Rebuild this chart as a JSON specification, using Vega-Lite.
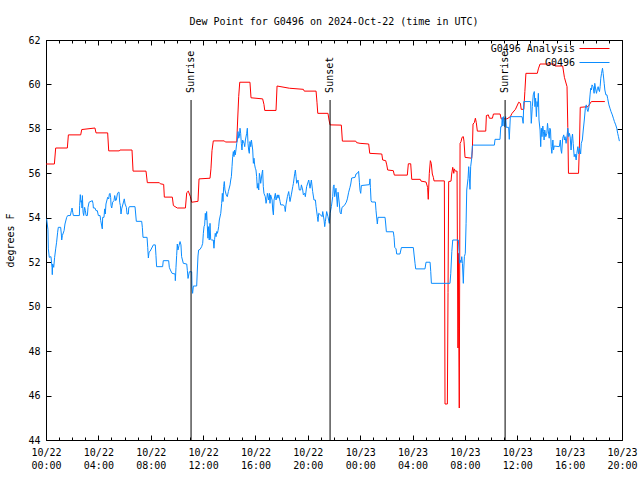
{
  "$schema": "https://vega.github.io/schema/vega-lite/v6.json",
  "width": 576,
  "height": 400,
  "autosize": {"type": "none"},
  "padding": {"left": 46, "top": 40, "right": 18, "bottom": 40},
  "background": "white",
  "title": {"text": "Dew Point for G0496 on 2024-Oct-22 (time in UTC)", "font": "DejaVu Sans Mono", "fontSize": 10, "fontWeight": "normal", "color": "black", "anchor": "middle", "offset": 8},
  "config": {
    "font": "DejaVu Sans Mono",
    "view": {"stroke": "black", "strokeWidth": 1},
    "axis": {"domain": false, "grid": false, "tickColor": "black", "labelColor": "black", "labelFont": "DejaVu Sans Mono", "labelFontSize": 10, "titleFont": "DejaVu Sans Mono", "titleFontSize": 10, "titleFontWeight": "normal", "titleColor": "black", "labelOverlap": false, "labelFlush": false}
  },
  "datasets": {
    "analysis": [
      {"hour":0,"dewpoint":56.42},{"hour":0.64,"dewpoint":56.42},{"hour":0.74,"dewpoint":57.14},{"hour":1.63,"dewpoint":57.14},{"hour":1.71,"dewpoint":57.73},{"hour":2.65,"dewpoint":57.73},{"hour":2.73,"dewpoint":57.97},{"hour":3.74,"dewpoint":58.04},{"hour":3.82,"dewpoint":57.82},{"hour":4.71,"dewpoint":57.82},{"hour":4.79,"dewpoint":57.01},{"hour":5.6,"dewpoint":57.01},{"hour":5.65,"dewpoint":57.05},{"hour":6.57,"dewpoint":57.05},{"hour":6.65,"dewpoint":56.1},{"hour":7.64,"dewpoint":56.1},{"hour":7.74,"dewpoint":55.58},{"hour":8.66,"dewpoint":55.58},{"hour":8.73,"dewpoint":55.53},{"hour":8.99,"dewpoint":55.5},{"hour":9.04,"dewpoint":54.93},{"hour":9.65,"dewpoint":54.93},{"hour":9.73,"dewpoint":54.55},{"hour":10.03,"dewpoint":54.44},{"hour":10.65,"dewpoint":54.44},{"hour":10.75,"dewpoint":55.13},{"hour":10.87,"dewpoint":55.2},{"hour":11.03,"dewpoint":54.95},{"hour":11.13,"dewpoint":54.7},{"hour":11.61,"dewpoint":54.74},{"hour":11.69,"dewpoint":55.75},{"hour":12.53,"dewpoint":55.78},{"hour":12.6,"dewpoint":56.2},{"hour":12.68,"dewpoint":57.02},{"hour":12.78,"dewpoint":57.46},{"hour":13.62,"dewpoint":57.46},{"hour":13.7,"dewpoint":57.41},{"hour":14.57,"dewpoint":57.41},{"hour":14.64,"dewpoint":58.4},{"hour":14.72,"dewpoint":59.45},{"hour":14.8,"dewpoint":60.1},{"hour":15.58,"dewpoint":60.1},{"hour":15.66,"dewpoint":59.4},{"hour":16.55,"dewpoint":59.35},{"hour":16.65,"dewpoint":59.1},{"hour":16.71,"dewpoint":58.83},{"hour":17.57,"dewpoint":58.83},{"hour":17.65,"dewpoint":59.93},{"hour":18.59,"dewpoint":59.83},{"hour":19.66,"dewpoint":59.78},{"hour":19.73,"dewpoint":59.7},{"hour":20.63,"dewpoint":59.7},{"hour":20.7,"dewpoint":59.2},{"hour":20.76,"dewpoint":58.7},{"hour":21.54,"dewpoint":58.7},{"hour":21.62,"dewpoint":58.4},{"hour":21.7,"dewpoint":58.18},{"hour":22.56,"dewpoint":58.17},{"hour":22.64,"dewpoint":57.45},{"hour":23.66,"dewpoint":57.45},{"hour":23.73,"dewpoint":57.38},{"hour":23.99,"dewpoint":57.35},{"hour":24.65,"dewpoint":57.32},{"hour":24.73,"dewpoint":56.9},{"hour":25.65,"dewpoint":56.87},{"hour":25.72,"dewpoint":56.6},{"hour":25.95,"dewpoint":56.57},{"hour":26.03,"dewpoint":56.38},{"hour":26.1,"dewpoint":56.15},{"hour":26.53,"dewpoint":56.12},{"hour":26.61,"dewpoint":55.92},{"hour":27.6,"dewpoint":55.92},{"hour":27.68,"dewpoint":56.43},{"hour":27.86,"dewpoint":56.43},{"hour":27.94,"dewpoint":55.73},{"hour":28.59,"dewpoint":55.73},{"hour":28.65,"dewpoint":55.65},{"hour":29.03,"dewpoint":55.61},{"hour":29.15,"dewpoint":55.37},{"hour":29.2,"dewpoint":54.83},{"hour":29.28,"dewpoint":56.0},{"hour":29.36,"dewpoint":56.57},{"hour":29.43,"dewpoint":56.45},{"hour":29.51,"dewpoint":55.97},{"hour":29.59,"dewpoint":55.82},{"hour":29.64,"dewpoint":55.66},{"hour":30.43,"dewpoint":55.66},{"hour":30.48,"dewpoint":45.62},{"hour":30.66,"dewpoint":45.62},{"hour":30.71,"dewpoint":50.63},{"hour":30.76,"dewpoint":55.63},{"hour":30.94,"dewpoint":55.65},{"hour":30.99,"dewpoint":55.97},{"hour":31.07,"dewpoint":56.27},{"hour":31.15,"dewpoint":56.0},{"hour":31.19,"dewpoint":56.2},{"hour":31.27,"dewpoint":56.1},{"hour":31.4,"dewpoint":56.1},{"hour":31.42,"dewpoint":53.45},{"hour":31.47,"dewpoint":48.14},{"hour":31.5,"dewpoint":52.4},{"hour":31.53,"dewpoint":49.0},{"hour":31.57,"dewpoint":45.44},{"hour":31.63,"dewpoint":57.35},{"hour":31.7,"dewpoint":57.42},{"hour":31.78,"dewpoint":57.62},{"hour":31.88,"dewpoint":57.65},{"hour":31.93,"dewpoint":57.45},{"hour":32.01,"dewpoint":56.72},{"hour":32.52,"dewpoint":56.68},{"hour":32.57,"dewpoint":57.05},{"hour":32.62,"dewpoint":58.22},{"hour":32.72,"dewpoint":58.28},{"hour":32.8,"dewpoint":58.48},{"hour":32.87,"dewpoint":58.28},{"hour":32.95,"dewpoint":57.9},{"hour":33.59,"dewpoint":57.9},{"hour":33.64,"dewpoint":58.6},{"hour":33.79,"dewpoint":58.63},{"hour":33.87,"dewpoint":58.48},{"hour":34.1,"dewpoint":58.48},{"hour":34.18,"dewpoint":58.67},{"hour":34.69,"dewpoint":58.67},{"hour":34.77,"dewpoint":58.45},{"hour":35.21,"dewpoint":58.45},{"hour":35.47,"dewpoint":58.55},{"hour":35.6,"dewpoint":58.7},{"hour":35.86,"dewpoint":58.88},{"hour":36.11,"dewpoint":59.2},{"hour":36.24,"dewpoint":59.15},{"hour":36.3,"dewpoint":58.88},{"hour":36.5,"dewpoint":58.88},{"hour":36.58,"dewpoint":59.68},{"hour":36.66,"dewpoint":60.5},{"hour":37.53,"dewpoint":60.5},{"hour":37.61,"dewpoint":60.7},{"hour":37.74,"dewpoint":60.92},{"hour":38.82,"dewpoint":60.92},{"hour":38.88,"dewpoint":60.83},{"hour":39.47,"dewpoint":60.83},{"hour":39.6,"dewpoint":60.32},{"hour":39.8,"dewpoint":59.9},{"hour":39.86,"dewpoint":58.07},{"hour":39.91,"dewpoint":56.0},{"hour":40.68,"dewpoint":56.0},{"hour":40.76,"dewpoint":57.5},{"hour":40.81,"dewpoint":58.97},{"hour":41.4,"dewpoint":59.0},{"hour":41.66,"dewpoint":59.23},{"hour":42.69,"dewpoint":59.23}
    ],
    "station": [
      {"hour":0.05,"dewpoint":53.95},{"hour":0.15,"dewpoint":53.46},{"hour":0.18,"dewpoint":52.6},{"hour":0.25,"dewpoint":52.22},{"hour":0.38,"dewpoint":52.25},{"hour":0.46,"dewpoint":51.77},{"hour":0.48,"dewpoint":51.44},{"hour":0.51,"dewpoint":51.92},{"hour":0.59,"dewpoint":51.77},{"hour":0.66,"dewpoint":52.22},{"hour":0.74,"dewpoint":52.6},{"hour":0.81,"dewpoint":52.9},{"hour":0.89,"dewpoint":53.35},{"hour":0.94,"dewpoint":53.57},{"hour":1.12,"dewpoint":53.57},{"hour":1.17,"dewpoint":53.27},{"hour":1.2,"dewpoint":53.0},{"hour":1.25,"dewpoint":53.2},{"hour":1.38,"dewpoint":53.42},{"hour":1.45,"dewpoint":53.72},{"hour":1.58,"dewpoint":54.02},{"hour":1.66,"dewpoint":54.1},{"hour":1.86,"dewpoint":54.1},{"hour":1.94,"dewpoint":54.32},{"hour":1.99,"dewpoint":54.44},{"hour":2.04,"dewpoint":54.25},{"hour":2.09,"dewpoint":54.1},{"hour":2.55,"dewpoint":54.1},{"hour":2.57,"dewpoint":54.55},{"hour":2.62,"dewpoint":55.04},{"hour":2.67,"dewpoint":54.7},{"hour":2.72,"dewpoint":54.77},{"hour":2.75,"dewpoint":54.44},{"hour":2.78,"dewpoint":55.0},{"hour":2.83,"dewpoint":54.25},{"hour":2.88,"dewpoint":54.1},{"hour":2.95,"dewpoint":54.47},{"hour":3.01,"dewpoint":54.32},{"hour":3.06,"dewpoint":54.1},{"hour":3.16,"dewpoint":54.1},{"hour":3.21,"dewpoint":54.47},{"hour":3.29,"dewpoint":54.7},{"hour":3.54,"dewpoint":54.77},{"hour":3.59,"dewpoint":54.65},{"hour":3.62,"dewpoint":54.44},{"hour":3.74,"dewpoint":54.44},{"hour":3.82,"dewpoint":54.32},{"hour":3.92,"dewpoint":54.32},{"hour":4.0,"dewpoint":54.1},{"hour":4.13,"dewpoint":54.1},{"hour":4.18,"dewpoint":53.87},{"hour":4.3,"dewpoint":53.5},{"hour":4.33,"dewpoint":54.02},{"hour":4.43,"dewpoint":54.02},{"hour":4.48,"dewpoint":54.4},{"hour":4.53,"dewpoint":54.17},{"hour":4.58,"dewpoint":54.62},{"hour":4.71,"dewpoint":54.92},{"hour":4.79,"dewpoint":54.85},{"hour":4.84,"dewpoint":55.07},{"hour":4.89,"dewpoint":55.1},{"hour":4.94,"dewpoint":54.92},{"hour":4.97,"dewpoint":54.55},{"hour":5.02,"dewpoint":54.44},{"hour":5.09,"dewpoint":54.7},{"hour":5.19,"dewpoint":54.77},{"hour":5.25,"dewpoint":55.0},{"hour":5.32,"dewpoint":54.77},{"hour":5.37,"dewpoint":54.8},{"hour":5.45,"dewpoint":55.07},{"hour":5.53,"dewpoint":55.15},{"hour":5.58,"dewpoint":55.15},{"hour":5.63,"dewpoint":54.7},{"hour":5.68,"dewpoint":54.55},{"hour":5.73,"dewpoint":54.17},{"hour":5.78,"dewpoint":54.4},{"hour":5.88,"dewpoint":54.62},{"hour":5.98,"dewpoint":54.85},{"hour":6.04,"dewpoint":54.62},{"hour":6.14,"dewpoint":54.47},{"hour":6.19,"dewpoint":54.17},{"hour":6.29,"dewpoint":54.17},{"hour":6.32,"dewpoint":54.44},{"hour":6.37,"dewpoint":54.5},{"hour":6.8,"dewpoint":54.5},{"hour":6.85,"dewpoint":54.17},{"hour":6.9,"dewpoint":53.84},{"hour":7.31,"dewpoint":53.84},{"hour":7.36,"dewpoint":53.57},{"hour":7.41,"dewpoint":53.12},{"hour":7.72,"dewpoint":53.12},{"hour":7.77,"dewpoint":52.67},{"hour":7.82,"dewpoint":52.19},{"hour":7.87,"dewpoint":52.45},{"hour":7.95,"dewpoint":52.49},{"hour":8.2,"dewpoint":52.78},{"hour":8.35,"dewpoint":52.78},{"hour":8.4,"dewpoint":52.3},{"hour":8.45,"dewpoint":51.8},{"hour":8.91,"dewpoint":51.8},{"hour":8.96,"dewpoint":52.07},{"hour":9.37,"dewpoint":52.07},{"hour":9.42,"dewpoint":51.77},{"hour":9.5,"dewpoint":51.65},{"hour":9.63,"dewpoint":51.5},{"hour":9.86,"dewpoint":51.47},{"hour":9.88,"dewpoint":51.17},{"hour":9.93,"dewpoint":51.77},{"hour":9.98,"dewpoint":52.3},{"hour":10.03,"dewpoint":52.82},{"hour":10.08,"dewpoint":52.55},{"hour":10.16,"dewpoint":52.75},{"hour":10.24,"dewpoint":52.93},{"hour":10.31,"dewpoint":52.78},{"hour":10.36,"dewpoint":52.25},{"hour":10.49,"dewpoint":51.95},{"hour":10.75,"dewpoint":51.92},{"hour":10.8,"dewpoint":51.62},{"hour":10.85,"dewpoint":51.27},{"hour":10.95,"dewpoint":51.57},{"hour":11.13,"dewpoint":51.57},{"hour":11.15,"dewpoint":50.9},{"hour":11.2,"dewpoint":50.6},{"hour":11.26,"dewpoint":50.93},{"hour":11.51,"dewpoint":50.93},{"hour":11.56,"dewpoint":51.65},{"hour":11.61,"dewpoint":52.28},{"hour":11.66,"dewpoint":52.55},{"hour":11.77,"dewpoint":52.58},{"hour":11.89,"dewpoint":52.7},{"hour":11.97,"dewpoint":52.85},{"hour":12.02,"dewpoint":53.3},{"hour":12.07,"dewpoint":53.6},{"hour":12.12,"dewpoint":53.68},{"hour":12.17,"dewpoint":54.2},{"hour":12.22,"dewpoint":53.9},{"hour":12.27,"dewpoint":54.28},{"hour":12.32,"dewpoint":53.68},{"hour":12.37,"dewpoint":53.08},{"hour":12.42,"dewpoint":53.6},{"hour":12.47,"dewpoint":53.0},{"hour":12.53,"dewpoint":53.75},{"hour":12.58,"dewpoint":53.03},{"hour":12.63,"dewpoint":53.0},{"hour":12.78,"dewpoint":53.0},{"hour":12.83,"dewpoint":52.63},{"hour":12.88,"dewpoint":53.03},{"hour":12.93,"dewpoint":53.3},{"hour":12.99,"dewpoint":53.15},{"hour":13.04,"dewpoint":53.38},{"hour":13.09,"dewpoint":53.3},{"hour":13.14,"dewpoint":53.42},{"hour":13.19,"dewpoint":53.6},{"hour":13.24,"dewpoint":53.9},{"hour":13.35,"dewpoint":54.2},{"hour":13.42,"dewpoint":54.65},{"hour":13.47,"dewpoint":55.1},{"hour":13.52,"dewpoint":54.73},{"hour":13.57,"dewpoint":55.4},{"hour":13.62,"dewpoint":55.63},{"hour":13.67,"dewpoint":55.25},{"hour":13.77,"dewpoint":55.03},{"hour":13.85,"dewpoint":54.95},{"hour":13.93,"dewpoint":55.18},{"hour":14.06,"dewpoint":55.48},{"hour":14.11,"dewpoint":55.7},{"hour":14.16,"dewpoint":55.85},{"hour":14.21,"dewpoint":56.3},{"hour":14.26,"dewpoint":56.75},{"hour":14.31,"dewpoint":56.98},{"hour":14.36,"dewpoint":56.75},{"hour":14.41,"dewpoint":57.05},{"hour":14.46,"dewpoint":56.83},{"hour":14.51,"dewpoint":57.05},{"hour":14.57,"dewpoint":57.35},{"hour":14.62,"dewpoint":57.5},{"hour":14.67,"dewpoint":57.88},{"hour":14.72,"dewpoint":57.58},{"hour":14.77,"dewpoint":57.65},{"hour":14.82,"dewpoint":58.03},{"hour":14.87,"dewpoint":57.8},{"hour":14.92,"dewpoint":57.35},{"hour":14.97,"dewpoint":57.05},{"hour":15.02,"dewpoint":57.5},{"hour":15.13,"dewpoint":57.35},{"hour":15.18,"dewpoint":57.2},{"hour":15.23,"dewpoint":57.5},{"hour":15.33,"dewpoint":57.8},{"hour":15.38,"dewpoint":58.03},{"hour":15.43,"dewpoint":57.35},{"hour":15.48,"dewpoint":57.05},{"hour":15.53,"dewpoint":56.9},{"hour":15.58,"dewpoint":57.43},{"hour":15.64,"dewpoint":57.2},{"hour":15.69,"dewpoint":57.5},{"hour":15.74,"dewpoint":57.28},{"hour":15.79,"dewpoint":57.05},{"hour":15.84,"dewpoint":56.45},{"hour":15.89,"dewpoint":56.68},{"hour":15.94,"dewpoint":56.38},{"hour":15.99,"dewpoint":56.23},{"hour":16.04,"dewpoint":56.15},{"hour":16.09,"dewpoint":55.85},{"hour":16.14,"dewpoint":55.33},{"hour":16.2,"dewpoint":55.55},{"hour":16.25,"dewpoint":55.25},{"hour":16.3,"dewpoint":56.0},{"hour":16.35,"dewpoint":55.85},{"hour":16.4,"dewpoint":55.55},{"hour":16.5,"dewpoint":56.0},{"hour":16.55,"dewpoint":56.15},{"hour":16.6,"dewpoint":55.4},{"hour":16.65,"dewpoint":55.1},{"hour":16.75,"dewpoint":54.95},{"hour":16.81,"dewpoint":54.65},{"hour":16.86,"dewpoint":54.8},{"hour":16.91,"dewpoint":55.1},{"hour":17.01,"dewpoint":54.8},{"hour":17.06,"dewpoint":55.1},{"hour":17.11,"dewpoint":54.65},{"hour":17.16,"dewpoint":55.03},{"hour":17.27,"dewpoint":54.8},{"hour":17.32,"dewpoint":54.35},{"hour":17.37,"dewpoint":54.13},{"hour":17.42,"dewpoint":54.8},{"hour":17.52,"dewpoint":55.1},{"hour":17.57,"dewpoint":54.8},{"hour":17.67,"dewpoint":55.03},{"hour":17.72,"dewpoint":54.88},{"hour":17.78,"dewpoint":55.03},{"hour":17.88,"dewpoint":54.73},{"hour":17.93,"dewpoint":54.58},{"hour":18.13,"dewpoint":54.58},{"hour":18.23,"dewpoint":54.5},{"hour":18.28,"dewpoint":54.28},{"hour":18.33,"dewpoint":54.58},{"hour":18.44,"dewpoint":54.95},{"hour":18.54,"dewpoint":55.18},{"hour":18.59,"dewpoint":54.95},{"hour":18.64,"dewpoint":54.73},{"hour":18.74,"dewpoint":55.03},{"hour":18.85,"dewpoint":55.4},{"hour":18.9,"dewpoint":55.55},{"hour":19.0,"dewpoint":56.0},{"hour":19.05,"dewpoint":56.15},{"hour":19.1,"dewpoint":55.85},{"hour":19.15,"dewpoint":55.55},{"hour":19.25,"dewpoint":55.7},{"hour":19.35,"dewpoint":55.25},{"hour":19.46,"dewpoint":55.25},{"hour":19.51,"dewpoint":55.48},{"hour":19.61,"dewpoint":55.25},{"hour":19.66,"dewpoint":55.03},{"hour":19.76,"dewpoint":55.1},{"hour":19.81,"dewpoint":54.95},{"hour":19.91,"dewpoint":55.4},{"hour":20.07,"dewpoint":55.7},{"hour":20.17,"dewpoint":55.33},{"hour":20.27,"dewpoint":55.7},{"hour":20.37,"dewpoint":55.18},{"hour":20.47,"dewpoint":54.8},{"hour":20.58,"dewpoint":54.8},{"hour":20.63,"dewpoint":54.5},{"hour":20.73,"dewpoint":54.05},{"hour":20.78,"dewpoint":53.83},{"hour":20.83,"dewpoint":54.2},{"hour":20.98,"dewpoint":54.13},{"hour":21.09,"dewpoint":54.05},{"hour":21.14,"dewpoint":54.28},{"hour":21.24,"dewpoint":53.9},{"hour":21.29,"dewpoint":53.6},{"hour":21.34,"dewpoint":53.83},{"hour":21.44,"dewpoint":54.28},{"hour":21.54,"dewpoint":54.05},{"hour":21.64,"dewpoint":53.75},{"hour":21.7,"dewpoint":54.2},{"hour":21.8,"dewpoint":54.5},{"hour":21.9,"dewpoint":54.95},{"hour":21.95,"dewpoint":55.4},{"hour":22.0,"dewpoint":55.48},{"hour":22.05,"dewpoint":54.95},{"hour":22.15,"dewpoint":55.33},{"hour":22.26,"dewpoint":54.5},{"hour":22.31,"dewpoint":55.15},{"hour":22.41,"dewpoint":54.62},{"hour":22.46,"dewpoint":54.25},{"hour":22.54,"dewpoint":54.17},{"hour":22.61,"dewpoint":54.47},{"hour":22.79,"dewpoint":54.55},{"hour":22.94,"dewpoint":54.7},{"hour":23.02,"dewpoint":54.85},{"hour":23.12,"dewpoint":55.15},{"hour":23.22,"dewpoint":55.37},{"hour":23.28,"dewpoint":55.52},{"hour":23.35,"dewpoint":55.79},{"hour":23.61,"dewpoint":55.82},{"hour":23.68,"dewpoint":55.97},{"hour":23.78,"dewpoint":56.0},{"hour":23.88,"dewpoint":56.09},{"hour":23.94,"dewpoint":55.6},{"hour":23.99,"dewpoint":55.22},{"hour":24.04,"dewpoint":55.1},{"hour":24.09,"dewpoint":55.45},{"hour":24.7,"dewpoint":55.49},{"hour":24.75,"dewpoint":55.75},{"hour":24.78,"dewpoint":55.37},{"hour":24.83,"dewpoint":54.77},{"hour":24.88,"dewpoint":54.71},{"hour":25.16,"dewpoint":54.71},{"hour":25.21,"dewpoint":54.32},{"hour":25.31,"dewpoint":53.72},{"hour":25.36,"dewpoint":54.02},{"hour":25.9,"dewpoint":54.02},{"hour":25.95,"dewpoint":53.72},{"hour":26.0,"dewpoint":53.37},{"hour":26.53,"dewpoint":53.37},{"hour":26.59,"dewpoint":53.12},{"hour":26.64,"dewpoint":52.67},{"hour":26.74,"dewpoint":52.6},{"hour":26.79,"dewpoint":52.37},{"hour":27.04,"dewpoint":52.37},{"hour":27.15,"dewpoint":52.66},{"hour":28.06,"dewpoint":52.66},{"hour":28.11,"dewpoint":52.37},{"hour":28.19,"dewpoint":51.95},{"hour":28.24,"dewpoint":51.7},{"hour":28.95,"dewpoint":51.7},{"hour":29.03,"dewpoint":52.0},{"hour":29.34,"dewpoint":52.0},{"hour":29.39,"dewpoint":51.58},{"hour":29.44,"dewpoint":51.05},{"hour":30.86,"dewpoint":51.05},{"hour":30.92,"dewpoint":51.5},{"hour":31.0,"dewpoint":52.48},{"hour":31.07,"dewpoint":53.0},{"hour":31.5,"dewpoint":53.0},{"hour":31.55,"dewpoint":52.48},{"hour":31.58,"dewpoint":51.95},{"hour":31.63,"dewpoint":52.1},{"hour":31.7,"dewpoint":51.98},{"hour":31.76,"dewpoint":52.25},{"hour":31.81,"dewpoint":51.95},{"hour":31.88,"dewpoint":51.05},{"hour":31.91,"dewpoint":51.65},{"hour":31.96,"dewpoint":52.25},{"hour":32.03,"dewpoint":52.4},{"hour":32.09,"dewpoint":53.75},{"hour":32.14,"dewpoint":55.25},{"hour":32.24,"dewpoint":55.78},{"hour":32.29,"dewpoint":56.3},{"hour":32.34,"dewpoint":55.78},{"hour":32.39,"dewpoint":55.28},{"hour":32.44,"dewpoint":56.3},{"hour":32.52,"dewpoint":56.68},{"hour":32.57,"dewpoint":57.23},{"hour":32.64,"dewpoint":57.27},{"hour":34.25,"dewpoint":57.27},{"hour":34.3,"dewpoint":57.53},{"hour":34.68,"dewpoint":57.53},{"hour":34.74,"dewpoint":58.1},{"hour":34.81,"dewpoint":58.1},{"hour":34.85,"dewpoint":58.52},{"hour":34.9,"dewpoint":58.13},{"hour":34.95,"dewpoint":58.55},{"hour":35.03,"dewpoint":58.1},{"hour":35.11,"dewpoint":58.55},{"hour":35.16,"dewpoint":58.07},{"hour":35.34,"dewpoint":58.07},{"hour":35.39,"dewpoint":57.53},{"hour":35.47,"dewpoint":58.55},{"hour":36.37,"dewpoint":58.55},{"hour":36.45,"dewpoint":58.25},{"hour":36.5,"dewpoint":59.23},{"hour":37.02,"dewpoint":59.23},{"hour":37.07,"dewpoint":58.25},{"hour":37.15,"dewpoint":59.0},{"hour":37.22,"dewpoint":59.53},{"hour":37.3,"dewpoint":59.68},{"hour":37.35,"dewpoint":59.0},{"hour":37.4,"dewpoint":59.38},{"hour":37.46,"dewpoint":58.55},{"hour":37.51,"dewpoint":59.23},{"hour":37.56,"dewpoint":59.0},{"hour":37.61,"dewpoint":59.6},{"hour":37.66,"dewpoint":58.4},{"hour":37.74,"dewpoint":57.95},{"hour":37.79,"dewpoint":57.2},{"hour":37.84,"dewpoint":58.03},{"hour":37.89,"dewpoint":57.65},{"hour":37.95,"dewpoint":58.13},{"hour":38.0,"dewpoint":57.88},{"hour":38.05,"dewpoint":57.5},{"hour":38.1,"dewpoint":57.95},{"hour":38.18,"dewpoint":57.65},{"hour":38.26,"dewpoint":57.8},{"hour":38.31,"dewpoint":58.25},{"hour":38.36,"dewpoint":57.95},{"hour":38.44,"dewpoint":57.58},{"hour":38.49,"dewpoint":58.03},{"hour":38.54,"dewpoint":57.95},{"hour":38.59,"dewpoint":57.2},{"hour":38.64,"dewpoint":56.9},{"hour":38.72,"dewpoint":57.5},{"hour":38.77,"dewpoint":57.05},{"hour":38.82,"dewpoint":57.23},{"hour":39.21,"dewpoint":57.2},{"hour":39.29,"dewpoint":57.5},{"hour":39.34,"dewpoint":57.05},{"hour":39.39,"dewpoint":56.9},{"hour":39.47,"dewpoint":57.58},{"hour":39.55,"dewpoint":57.73},{"hour":39.6,"dewpoint":57.5},{"hour":39.65,"dewpoint":57.65},{"hour":39.73,"dewpoint":57.35},{"hour":39.8,"dewpoint":57.68},{"hour":39.86,"dewpoint":58.03},{"hour":39.93,"dewpoint":57.65},{"hour":39.98,"dewpoint":57.8},{"hour":40.04,"dewpoint":57.65},{"hour":40.11,"dewpoint":57.05},{"hour":40.17,"dewpoint":57.58},{"hour":40.22,"dewpoint":57.77},{"hour":40.27,"dewpoint":57.35},{"hour":40.35,"dewpoint":56.75},{"hour":40.42,"dewpoint":56.87},{"hour":40.5,"dewpoint":56.6},{"hour":40.55,"dewpoint":56.9},{"hour":40.63,"dewpoint":57.2},{"hour":40.68,"dewpoint":56.87},{"hour":40.76,"dewpoint":57.13},{"hour":40.84,"dewpoint":56.87},{"hour":40.89,"dewpoint":57.35},{"hour":40.97,"dewpoint":57.5},{"hour":41.04,"dewpoint":57.95},{"hour":41.12,"dewpoint":58.4},{"hour":41.2,"dewpoint":58.93},{"hour":41.27,"dewpoint":59.08},{"hour":41.35,"dewpoint":58.85},{"hour":41.4,"dewpoint":58.78},{"hour":41.48,"dewpoint":59.0},{"hour":41.56,"dewpoint":59.53},{"hour":41.61,"dewpoint":59.83},{"hour":41.66,"dewpoint":59.75},{"hour":41.71,"dewpoint":59.98},{"hour":41.79,"dewpoint":59.9},{"hour":41.87,"dewpoint":59.6},{"hour":41.92,"dewpoint":60.05},{"hour":42.0,"dewpoint":59.75},{"hour":42.05,"dewpoint":59.6},{"hour":42.13,"dewpoint":59.83},{"hour":42.18,"dewpoint":59.9},{"hour":42.23,"dewpoint":59.75},{"hour":42.28,"dewpoint":59.68},{"hour":42.33,"dewpoint":59.9},{"hour":42.38,"dewpoint":60.28},{"hour":42.44,"dewpoint":60.5},{"hour":42.51,"dewpoint":60.73},{"hour":42.56,"dewpoint":60.5},{"hour":42.64,"dewpoint":60.05},{"hour":42.69,"dewpoint":59.75},{"hour":42.77,"dewpoint":59.53},{"hour":42.85,"dewpoint":59.53},{"hour":42.9,"dewpoint":59.38},{"hour":43.0,"dewpoint":59.08},{"hour":43.08,"dewpoint":58.93},{"hour":43.16,"dewpoint":58.78},{"hour":43.26,"dewpoint":58.63},{"hour":43.34,"dewpoint":58.48},{"hour":43.42,"dewpoint":58.33},{"hour":43.52,"dewpoint":58.18},{"hour":43.6,"dewpoint":58.03},{"hour":43.67,"dewpoint":57.8},{"hour":43.73,"dewpoint":57.65},{"hour":43.8,"dewpoint":57.45}
    ],
    "events": [
      {"event": "Sunrise", "hour": 11.08},
      {"event": "Sunset", "hour": 21.7},
      {"event": "Sunrise", "hour": 35.07}
    ]
  },
  "resolve": {"axis": {"x": "independent", "y": "independent"}},
  "layer": [
    {
      "data": {"name": "analysis"},
      "mark": {"type": "line", "strokeWidth": 1, "interpolate": "linear"},
      "encoding": {
        "x": {"field": "hour", "type": "quantitative", "scale": {"domain": [0, 44], "nice": false, "zero": false},
          "axis": {"orient": "bottom", "title": null, "values": [0,4,8,12,16,20,24,28,32,36,40,44], "tickSize": -5, "labelPadding": 12, "labelBaseline": "top", "labelLineHeight": 13,
            "labelExpr": "[datum.value < 24 ? '10/22' : '10/23', (datum.value % 24 < 10 ? '0' : '') + (datum.value % 24) + ':00']"}},
        "y": {"field": "dewpoint", "type": "quantitative", "scale": {"domain": [44, 62], "nice": false, "zero": false},
          "axis": {"orient": "left", "title": "degrees F", "values": [44,46,48,50,52,54,56,58,60,62], "tickSize": -5, "labelPadding": 11, "titlePadding": 12}},
        "color": {"datum": "G0496 Analysis", "type": "nominal",
          "scale": {"domain": ["G0496 Analysis", "G0496"], "range": ["#ff0000", "#0a8cff"]},
          "legend": {"orient": "none", "legendX": 543, "legendY": 3, "title": null, "symbolType": "M-3,0H3", "symbolSize": 100, "symbolStrokeWidth": 1, "labelAlign": "right", "labelOffset": -25, "labelFont": "DejaVu Sans Mono", "labelFontSize": 10, "labelColor": "black", "rowPadding": 3,
            "encode": {"symbols": {"update": {"stroke": {"scale": "color", "field": "value"}, "fill": {"value": "transparent"}, "strokeWidth": {"value": 1}, "opacity": {"value": 1}}}}}}
      }
    },
    {
      "data": {"name": "station"},
      "mark": {"type": "line", "strokeWidth": 1, "interpolate": "linear"},
      "encoding": {
        "x": {"field": "hour", "type": "quantitative", "scale": {"domain": [0, 44], "nice": false, "zero": false},
          "axis": {"orient": "bottom", "title": null, "values": [0,1,2,3,4,5,6,7,8,9,10,11,12,13,14,15,16,17,18,19,20,21,22,23,24,25,26,27,28,29,30,31,32,33,34,35,36,37,38,39,40,41,42,43,44], "tickSize": -3, "labels": false}},
        "y": {"field": "dewpoint", "type": "quantitative", "scale": {"domain": [44, 62], "nice": false, "zero": false},
          "axis": {"orient": "right", "title": null, "values": [44,46,48,50,52,54,56,58,60,62], "tickSize": -5, "labels": false}},
        "color": {"datum": "G0496", "type": "nominal"}
      }
    },
    {
      "data": {"name": "events"},
      "mark": {"type": "rule", "color": "black", "strokeWidth": 1},
      "encoding": {
        "x": {"field": "hour", "type": "quantitative",
          "axis": {"orient": "top", "title": null, "values": [0,4,8,12,16,20,24,28,32,36,40,44], "tickSize": -5, "labels": false}},
        "y": {"datum": 59.3, "type": "quantitative", "axis": null},
        "y2": {"datum": 44}
      }
    },
    {
      "data": {"name": "events"},
      "mark": {"type": "text", "angle": 270, "align": "left", "baseline": "middle", "font": "DejaVu Sans Mono", "fontSize": 10, "color": "black"},
      "encoding": {
        "x": {"field": "hour", "type": "quantitative",
          "axis": {"orient": "top", "title": null, "values": [0,1,2,3,4,5,6,7,8,9,10,11,12,13,14,15,16,17,18,19,20,21,22,23,24,25,26,27,28,29,30,31,32,33,34,35,36,37,38,39,40,41,42,43,44], "tickSize": -3, "labels": false}},
        "y": {"datum": 59.62, "type": "quantitative", "axis": null},
        "text": {"field": "event"}
      }
    }
  ]
}
